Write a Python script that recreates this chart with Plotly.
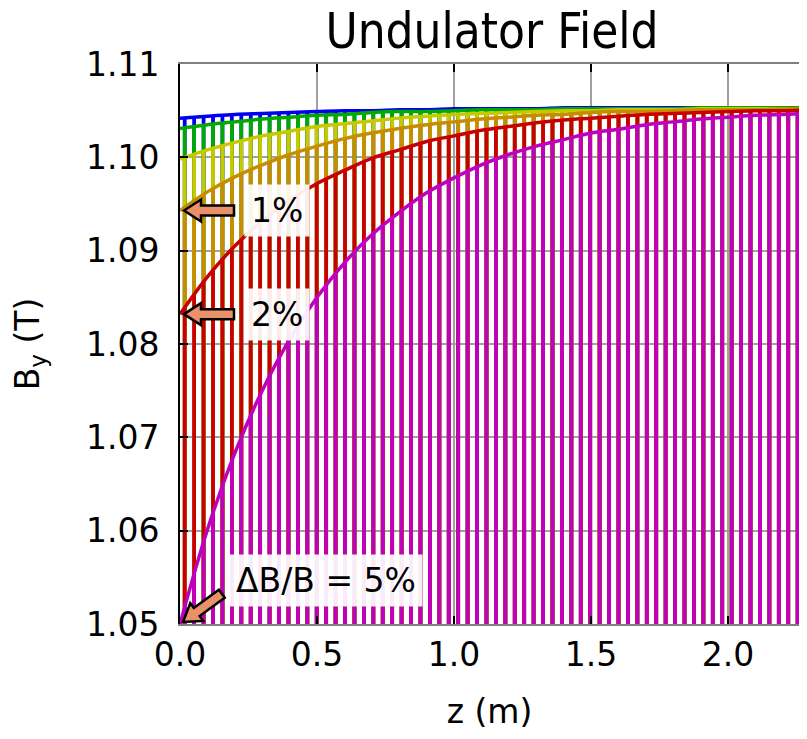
import math
import plotly.graph_objects as go

# ---------------- data ----------------
z_m = [0.0, 0.1, 0.2, 0.3, 0.4, 0.5, 0.6, 0.7, 0.8, 0.9, 1.0, 1.1,
       1.2, 1.3, 1.4, 1.5, 1.6, 1.7, 1.8, 1.9, 2.0, 2.1, 2.2, 2.3]

B_01pct = [1.1042, 1.1044, 1.1046, 1.1047, 1.1048, 1.1049, 1.1050, 1.1050, 1.1051, 1.1051, 1.1052, 1.1052,
           1.1052, 1.1052, 1.1053, 1.1053, 1.1053, 1.1053, 1.1053, 1.1053, 1.1053, 1.1053, 1.1053, 1.1053]
B_02pct = [1.1031, 1.1035, 1.1038, 1.1041, 1.1043, 1.1045, 1.1046, 1.1048, 1.1049, 1.1049, 1.1050, 1.1051,
           1.1051, 1.1051, 1.1052, 1.1052, 1.1052, 1.1052, 1.1052, 1.1053, 1.1053, 1.1053, 1.1053, 1.1053]
B_05pct = [1.0998, 1.1008, 1.1016, 1.1023, 1.1028, 1.1033, 1.1036, 1.1039, 1.1042, 1.1044, 1.1046, 1.1047,
           1.1048, 1.1049, 1.1050, 1.1050, 1.1051, 1.1051, 1.1051, 1.1052, 1.1052, 1.1052, 1.1052, 1.1052]
B_1pct = [1.0943, 1.0963, 1.0979, 1.0992, 1.1003, 1.1012, 1.1020, 1.1026, 1.1031, 1.1035, 1.1038, 1.1041,
          1.1043, 1.1045, 1.1046, 1.1048, 1.1049, 1.1049, 1.1050, 1.1051, 1.1051, 1.1051, 1.1052, 1.1052]
B_2pct = [1.0832, 1.0872, 1.0905, 1.0932, 1.0954, 1.0972, 1.0986, 1.0999, 1.1008, 1.1017, 1.1023, 1.1029,
          1.1033, 1.1037, 1.1040, 1.1042, 1.1044, 1.1046, 1.1047, 1.1048, 1.1049, 1.1050, 1.1050, 1.1051]
B_5pct = [1.0500, 1.0601, 1.0683, 1.0750, 1.0805, 1.0850, 1.0887, 1.0917, 1.0941, 1.0962, 1.0978, 1.0992,
          1.1003, 1.1012, 1.1019, 1.1026, 1.1030, 1.1035, 1.1038, 1.1041, 1.1043, 1.1045, 1.1046, 1.1047]

series_names = ["ΔB/B = 0.1%", "ΔB/B = 0.2%", "ΔB/B = 0.5%", "ΔB/B = 1%", "ΔB/B = 2%", "ΔB/B = 5%"]
series_values = [B_01pct, B_02pct, B_05pct, B_1pct, B_2pct, B_5pct]
series_colors = ["#0000f0", "#00aa00", "#c8c800", "#c88c00", "#c80000", "#bf00bf"]

y_ticks = [1.05, 1.06, 1.07, 1.08, 1.09, 1.10, 1.11]
x_ticks = [0.0, 0.5, 1.0, 1.5, 2.0]

label_texts = ["1%", "2%", "ΔB/B = 5%"]
label_anchor_y = [1.0943, 1.0832, 1.0500]

# ---------------- figure ----------------
FONT = "DejaVu Sans, Verdana, sans-serif"
FS = 33
fig = go.Figure()

for name, vals, col in zip(series_names, series_values, series_colors):
    fig.add_trace(go.Scatter(
        x=z_m, y=vals, name=name, mode="lines",
        line=dict(color=col, width=3.5, shape="spline", smoothing=1.0),
        fill="tozeroy", fillcolor=col,
        fillpattern=dict(shape="|", size=9.43, solidity=0.4,
                         fgcolor=col, bgcolor="rgba(0,0,0,0)", fillmode="replace"),
        showlegend=False, hoverinfo="skip",
    ))

# label boxes
label_shift = [97, 97, 146]
label_yshift = [0, 0, 44]
for txt, yv, xs, ys in zip(label_texts, label_anchor_y, label_shift, label_yshift):
    fig.add_annotation(x=0, y=yv, xref="x", yref="y", text=txt, showarrow=False,
                       xshift=xs, yshift=ys, xanchor="center", yanchor="middle",
                       font=dict(family=FONT, size=FS, color="black"),
                       bgcolor="rgba(255,255,255,0.92)", borderpad=6)

# fat block arrows (decorations), pixel geometry relative to the pointed-at value
def arrow_path(angle_deg, tip=(3, 0), total=48):
    a = math.radians(angle_deg)
    ux, uy = math.cos(a), math.sin(a)
    nx, ny = -uy, ux
    head_len, head_half, shaft_half = 17, 11, 5
    pts = [(0, 0), (head_len, head_half), (head_len, shaft_half), (total, shaft_half),
           (total, -shaft_half), (head_len, -shaft_half), (head_len, -head_half)]
    out = []
    for i, (s, t) in enumerate(pts):
        px = tip[0] + s * ux + t * nx
        py = tip[1] + s * uy + t * ny
        out.append(("M" if i == 0 else "L") + f"{px:.2f},{py:.2f}")
    return " ".join(out) + " Z"

arrow_specs = [(0, (4, 0), 50), (0, (4, 0), 50), (36, (3, 2), 48)]
for yv, (ang, tip, tot) in zip(label_anchor_y, arrow_specs):
    fig.add_shape(type="path", xref="x", yref="y", xsizemode="pixel", ysizemode="pixel",
                  xanchor=0, yanchor=yv, path=arrow_path(ang, tip, tot),
                  fillcolor="#eb9169", line=dict(color="black", width=2.5), layer="above")

W, H = 791, 723
fig.update_layout(
    width=W, height=H, autosize=False,
    margin=dict(l=172, r=0, t=56, b=107),
    paper_bgcolor="white", plot_bgcolor="white",
    font=dict(family=FONT, size=FS, color="black"),
    title=dict(text="Undulator Field", x=484 / W, xref="container", xanchor="center",
               y=1 - 23 / H, yref="container", yanchor="middle",
               font=dict(family="DejaVu Sans Condensed, DejaVu Sans, sans-serif", size=49, color="black")),
    xaxis=dict(range=[0, 2.259], tickvals=x_ticks, tickformat=".1f",
               showgrid=True, gridcolor="#a0a0a0", gridwidth=1.5,
               showline=True, linecolor="#808080", linewidth=2, mirror="ticks",
               ticks="inside", ticklen=8, tickcolor="black", tickwidth=1.5,
               zeroline=False, layer="above traces",
               tickfont=dict(family=FONT, size=FS, color="black"),
               title=dict(text="z (m)", font=dict(family=FONT, size=FS, color="black"), standoff=30)),
    yaxis=dict(range=[1.05, 1.11], tickvals=y_ticks, tickformat=".2f",
               showgrid=True, gridcolor="#a0a0a0", gridwidth=1.5,
               showline=True, linecolor="black", linewidth=2,
               ticks="inside", ticklen=8, tickcolor="black", tickwidth=1.5,
               zeroline=False, ticklabelstandoff=12,
               tickfont=dict(family=FONT, size=FS, color="black"),
               title=dict(text="B<sub>y</sub> (T)", font=dict(family=FONT, size=FS, color="black"), standoff=42)),
)

fig.write_html("out.html")
